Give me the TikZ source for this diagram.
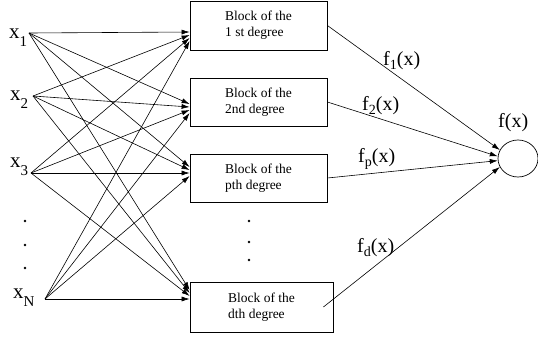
\documentclass[tikz,border=0pt]{standalone}
\usepackage{fontspec}
\setmainfont{Liberation Serif}
\usetikzlibrary{arrows.meta,calc,shapes}

\newcommand{\xin}[1]{x\raisebox{-8pt}{\fontsize{15}{15}\selectfont #1}}
\newcommand{\fout}[1]{f\raisebox{-4pt}{\fontsize{14}{14}\selectfont #1}(x)}

\begin{document}
\begin{tikzpicture}[x=1pt, y=-1pt]
\tikzstyle{block} = [rectangle, draw, line width=0.8pt, minimum width=137pt, minimum height=49pt, align=left, font=\fontsize{13.5}{16}\selectfont]
\tikzstyle{arrow} = [-{Latex[length=8pt,width=5pt]}, line width=0.6pt]
\tikzstyle{lbl} = [inner sep=0pt, anchor=base west, font=\fontsize{21}{21}\selectfont]
\tikzstyle{flbl} = [inner sep=0pt, anchor=base west, font=\fontsize{20}{20}\selectfont]
\useasboundingbox (0,0) rectangle (538,338);

% inputs
\node (x1) [lbl] at (9,38) {\xin{1}};
\node (x2) [lbl] at (10,100) {\xin{2}};
\node (x3) [lbl] at (10,167) {\xin{3}};
\node (xn) [lbl] at (13,298) {\xin{N}};
\foreach \i/\sx/\sy in {1/29/33, 2/33/96, 3/31/173, 4/45/299}
  \coordinate (in\i) at (\sx,\sy);
\foreach \y in {221,245,268} \fill (25,\y) circle (1.3pt);

% blocks
\node (blk1) [block] at (258.5,25.5) {Block of the\\1 st degree};
\node (blk2) [block, minimum height=48pt] at (258.5,102) {Block of the\\2nd degree};
\node (blk3) [block, minimum height=48pt] at (258.5,178) {Block of the\\pth degree};
\node (blk4) [block, minimum width=143pt, minimum height=50pt] at (261.5,307) {Block of the\\dth degree};
\foreach \y in {221,242,260} \fill (249,\y) circle (1.3pt);

\foreach \i in {1,...,4}
  \foreach \j/\off in {1/6.5, 2/5, 3/-5, 4/-8}
    \draw[arrow] (in\i) -- ($(blk\j.west)+(0,{\off+3*(\i-\j)})$);

% output
\node (sum) [ellipse, draw, line width=0.7pt, minimum width=40pt, minimum height=37pt, inner sep=0pt] at (518,158.5) {};
\node (fx) [flbl] at (498,127) {f(x)};
\draw[arrow] (blk1.east) -- (sum.155); \draw[arrow] (blk2.east) -- (sum.174);
\draw[arrow] (blk3.east) -- (sum.186); \draw[arrow] ([xshift=-10pt]blk4.east) -- (sum.205);
\node (f1) [flbl] at (383,65) {\fout{1}};
\node (f2) [flbl] at (362,110) {\fout{2}};
\node (fp) [flbl] at (358,162) {\fout{p}};
\node (fd) [flbl] at (357,252) {\fout{d}};
\end{tikzpicture}
\end{document}
